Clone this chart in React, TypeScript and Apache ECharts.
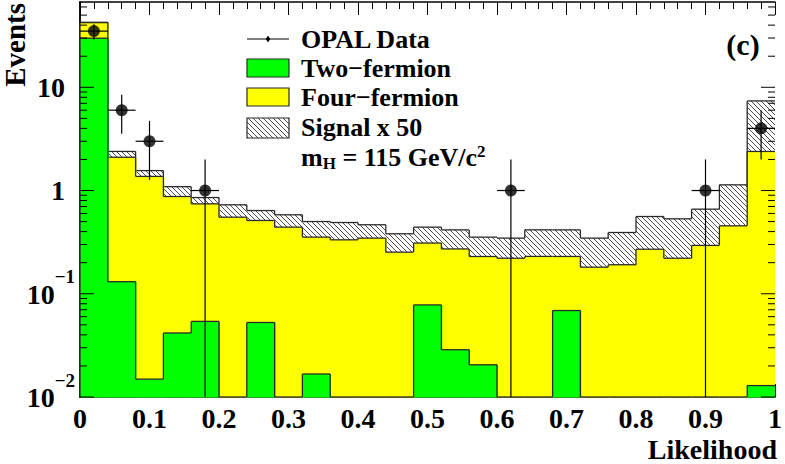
import React, { useEffect, useRef } from "react";
import * as echarts from "echarts";

// ---------------- data ----------------
const binLow = [
  0, 0.04, 0.08, 0.12, 0.16, 0.2, 0.24, 0.28, 0.32, 0.36, 0.4, 0.44, 0.48,
  0.52, 0.56, 0.6, 0.64, 0.68, 0.72, 0.76, 0.8, 0.84, 0.88, 0.92, 0.96,
];
const binWidth = 0.04;

const twoFermion = [
  29.9, 0.131, 0.0149, 0.0417, 0.054, 0, 0.0527, 0, 0.0167, 0, 0, 0, 0.078,
  0.0287, 0.0205, 0, 0, 0.0688, 0, 0, 0, 0, 0, 0, 0.0129,
];
const fourFermion = [
  12.4, 1.97, 1.355, 0.833, 0.689, 0.552, 0.46, 0.442, 0.337, 0.333, 0.346,
  0.253, 0.232, 0.243, 0.209, 0.221, 0.23, 0.161, 0.181, 0.191, 0.27, 0.221,
  0.294, 0.455, 2.377,
];
const signalX50 = [
  0.3, 0.29, 0.19, 0.215, 0.112, 0.175, 0.127, 0.14, 0.147, 0.157, 0.12,
  0.128, 0.132, 0.144, 0.124, 0.125, 0.186, 0.186, 0.165, 0.201, 0.29, 0.311,
  0.366, 0.68, 4.99,
];

const dataX = [0.02, 0.06, 0.1, 0.18, 0.62, 0.9, 0.98];
const dataCounts = [35, 6, 3, 1, 1, 1, 4];
const dataErrLow = [29.1, 3.55, 1.27, 0, 0, 0, 2];
const dataErrHigh = [40.9, 8.45, 4.73, 2, 2, 2, 6];

const xTickLabels = ["0", "0.1", "0.2", "0.3", "0.4", "0.5", "0.6", "0.7", "0.8", "0.9", "1"];
const yMajorTicks = [0.01, 0.1, 1, 10];
const yTickLabels = ["{b|10}{s|\u22122}", "{b|10}{s|\u22121}", "{n|1}", "{n|10}"];

const yMin = 0.01;
const yMax = 67;

const FONT = "'Liberation Serif', 'Times New Roman', serif";
const GREEN = "#00ff00";
const YELLOW = "#ffff00";
const OUTLINE = "#2a2a2a";
const HATCH = "#3a3a3a";

function hatchLines(l: number, t: number, r: number, b: number, s: number) {
  const out: any[] = [];
  const kMin = Math.ceil((t - r) / s);
  const kMax = Math.floor((b - l) / s);
  for (let k = kMin; k <= kMax; k++) {
    const c = k * s;
    const xs = Math.max(l, t - c);
    const xe = Math.min(r, b - c);
    if (xe - xs > 0.3) {
      out.push({
        type: "line",
        silent: true,
        shape: { x1: xs, y1: xs + c, x2: xe, y2: xe + c },
        style: { stroke: HATCH, lineWidth: 0.9 },
      });
    }
  }
  return out;
}

function buildLayer(base: number[], top: number[]) {
  return binLow.map((x0, i) => [
    x0,
    x0 + binWidth,
    Math.max(base[i], yMin),
    Math.max(top[i], yMin),
    i === 0 ? yMin : Math.max(top[i - 1], yMin),
  ]);
}

function histRender(kind: "fill" | "hatch", color: string) {
  return (params: any, api: any) => {
    const x0 = api.value(0);
    const x1 = api.value(1);
    const b = api.value(2);
    const t = api.value(3);
    const p = api.value(4);
    const bl = api.coord([x0, b]);
    const tr = api.coord([x1, t]);
    const pv = api.coord([x0, p]);
    const left = bl[0];
    const right = tr[0];
    const top = tr[1];
    const bottom = bl[1];
    const isLast = params.dataIndex === binLow.length - 1;
    const children: any[] = [];
    if (bottom - top > 0.2) {
      if (kind === "fill") {
        children.push({
          type: "rect",
          shape: {
            x: left,
            y: top,
            width: right - left + (isLast ? 0 : 0.8),
            height: bottom - top + 0.6,
          },
          style: { fill: color },
        });
      } else {
        children.push(...hatchLines(left, top, right, bottom, 5));
      }
    }
    children.push({
      type: "line",
      shape: { x1: left, y1: top, x2: right, y2: top },
      style: { stroke: OUTLINE, lineWidth: 1.3 },
    });
    children.push({
      type: "line",
      shape: { x1: left, y1: pv[1], x2: left, y2: top },
      style: { stroke: OUTLINE, lineWidth: 1.3 },
    });
    return { type: "group", children };
  };
}

export default function App() {
  const ref = useRef<HTMLDivElement>(null);

  useEffect(() => {
    if (!ref.current) return;
    const chart = echarts.init(ref.current, undefined, { renderer: "svg" });

    const greenTop = twoFermion.map((v) => v);
    const yellowTop = twoFermion.map((v, i) => v + fourFermion[i]);
    const hatchTop = yellowTop.map((v, i) => v + signalX50[i]);
    const zeros = twoFermion.map(() => yMin);

    const greenData = buildLayer(zeros, greenTop);
    const yellowData = buildLayer(greenTop, yellowTop);
    const hatchData = buildLayer(yellowTop, hatchTop);

    // y tick marks (log minor ticks 2..9 per decade)
    const yTickData: number[][] = [];
    for (let e = -2; e <= 1; e++) {
      for (let m = 1; m <= 9; m++) {
        const v = m * Math.pow(10, e);
        if (v <= yMax) yTickData.push([0, v, m === 1 ? 1 : 0]);
      }
    }

    const pointData = dataX.map((x, i) => [x, dataCounts[i]]);
    const errData = dataX.map((x, i) => [
      x,
      dataCounts[i],
      Math.max(dataErrLow[i], yMin),
      dataErrHigh[i],
    ]);

    const legendX = 247;
    const legendW = 42;
    const legendTextX = 301;
    const legTextStyle = {
      fontSize: 26,
      fontWeight: "bold",
      fontFamily: FONT,
      fill: "#000",
      align: "left",
      verticalAlign: "middle",
    };

    const option: any = {
      animation: false,
      backgroundColor: "#ffffff",
      textStyle: { fontFamily: FONT },
      grid: { left: 80, right: 7, top: 2, bottom: 67, show: false },
      xAxis: [
        {
          type: "value",
          min: 0,
          max: 1,
          interval: 0.1,
          position: "bottom",
          axisLine: { show: true, lineStyle: { color: "#000", width: 1.5 } },
          axisTick: { show: true, inside: true, length: 13, lineStyle: { color: "#000", width: 1 } },
          minorTick: { show: true, splitNumber: 5, length: 7, lineStyle: { color: "#000", width: 1 } },
          splitLine: { show: false },
          minorSplitLine: { show: false },
          axisLabel: {
            margin: 7,
            fontSize: 28,
            lineHeight: 28,
            fontWeight: "bold",
            fontFamily: FONT,
            color: "#000",
            formatter: (v: number) => {
              const i = Math.round(v * 10);
              return Math.abs(v * 10 - i) < 1e-6 ? xTickLabels[i] : "";
            },
          },
        },
        {
          type: "value",
          min: 0,
          max: 1,
          interval: 0.1,
          position: "top",
          axisLine: { show: true, lineStyle: { color: "#000", width: 1.5 } },
          axisTick: { show: true, inside: true, length: 13, lineStyle: { color: "#000", width: 1 } },
          minorTick: { show: true, splitNumber: 5, length: 7, lineStyle: { color: "#000", width: 1 } },
          splitLine: { show: false },
          axisLabel: { show: false },
        },
      ],
      yAxis: [
        {
          type: "log",
          logBase: 10,
          min: yMin,
          max: yMax,
          position: "left",
          axisLine: { show: true, lineStyle: { color: "#000", width: 1.5 } },
          axisTick: { show: false },
          splitLine: { show: false },
          axisLabel: {
            margin: 5,
            color: "#000",
            formatter: (v: number) => {
              for (let i = 0; i < yMajorTicks.length; i++) {
                if (Math.abs(Math.log10(v) - Math.log10(yMajorTicks[i])) < 1e-6) return yTickLabels[i];
              }
              return "";
            },
            rich: {
              n: { fontSize: 28, fontWeight: "bold", fontFamily: FONT, color: "#000", padding: [0, 10, 0, 0] },
              b: { fontSize: 28, fontWeight: "bold", fontFamily: FONT, color: "#000", verticalAlign: "bottom", padding: [0, 0, 12, 0] },
              s: { fontSize: 19, fontWeight: "bold", fontFamily: FONT, color: "#000", verticalAlign: "bottom", padding: [0, 0, 34, 0] },
            },
          },
        },
        {
          type: "log",
          logBase: 10,
          min: yMin,
          max: yMax,
          position: "right",
          axisLine: { show: true, lineStyle: { color: "#000", width: 1.5 } },
          axisTick: { show: false },
          splitLine: { show: false },
          axisLabel: { show: false },
        },
      ],
      series: [
        {
          name: "Signal x 50",
          type: "custom",
          renderItem: histRender("hatch", "#fff"),
          data: hatchData,
          encode: { x: [0, 1], y: [2, 3] },
          z: 2,
        },
        {
          name: "Four-fermion",
          type: "custom",
          renderItem: histRender("fill", YELLOW),
          data: yellowData,
          encode: { x: [0, 1], y: [2, 3] },
          z: 3,
        },
        {
          name: "Two-fermion",
          type: "custom",
          renderItem: histRender("fill", GREEN),
          data: greenData,
          encode: { x: [0, 1], y: [2, 3] },
          z: 4,
        },
        {
          name: "ticks",
          type: "custom",
          silent: true,
          z: 6,
          data: yTickData,
          encode: { x: 0, y: 1 },
          renderItem: (params: any, api: any) => {
            const v = api.value(1);
            const major = api.value(2) === 1;
            const len = major ? 14 : 7;
            const pl = api.coord([0, v]);
            const pr = api.coord([1, v]);
            return {
              type: "group",
              children: [
                { type: "line", shape: { x1: pl[0], y1: pl[1], x2: pl[0] + len, y2: pl[1] }, style: { stroke: "#000", lineWidth: 1 } },
                { type: "line", shape: { x1: pr[0] - len, y1: pr[1], x2: pr[0], y2: pr[1] }, style: { stroke: "#000", lineWidth: 1 } },
              ],
            };
          },
        },
        {
          name: "OPAL Data errors",
          type: "custom",
          z: 7,
          data: errData,
          encode: { x: 0, y: 1 },
          renderItem: (params: any, api: any) => {
            const x = api.value(0);
            const c = api.value(1);
            const lo = api.value(2);
            const hi = api.value(3);
            const pL = api.coord([x - binWidth / 2, c]);
            const pR = api.coord([x + binWidth / 2, c]);
            const pLo = api.coord([x, lo]);
            const pHi = api.coord([x, hi]);
            return {
              type: "group",
              children: [
                { type: "line", shape: { x1: pL[0], y1: pL[1], x2: pR[0], y2: pR[1] }, style: { stroke: "#000", lineWidth: 1.2 } },
                { type: "line", shape: { x1: pLo[0], y1: pLo[1], x2: pHi[0], y2: pHi[1] }, style: { stroke: "#000", lineWidth: 1.2 } },
              ],
            };
          },
        },
        {
          name: "OPAL Data",
          type: "scatter",
          z: 8,
          symbol: "circle",
          symbolSize: 12,
          itemStyle: { color: "#000" },
          data: pointData,
        },
      ],
      graphic: [
        // legend: OPAL Data
        { type: "line", shape: { x1: legendX, y1: 39, x2: legendX + legendW, y2: 39 }, style: { stroke: "#000", lineWidth: 1.2 } },
        { type: "line", shape: { x1: legendX + legendW / 2, y1: 36, x2: legendX + legendW / 2, y2: 42 }, style: { stroke: "#000", lineWidth: 1.2 } },
        { type: "circle", shape: { cx: legendX + legendW / 2, cy: 39, r: 2 }, style: { fill: "#000" } },
        { type: "text", x: legendTextX, y: 39, style: { ...legTextStyle, text: "OPAL Data" } },
        // Two-fermion
        { type: "rect", shape: { x: legendX, y: 59, width: legendW, height: 18 }, style: { fill: GREEN, stroke: OUTLINE, lineWidth: 1.2 } },
        { type: "text", x: legendTextX, y: 68, style: { ...legTextStyle, text: "Two\u2212fermion" } },
        // Four-fermion
        { type: "rect", shape: { x: legendX, y: 88, width: legendW, height: 18 }, style: { fill: YELLOW, stroke: OUTLINE, lineWidth: 1.2 } },
        { type: "text", x: legendTextX, y: 97, style: { ...legTextStyle, text: "Four\u2212fermion" } },
        // Signal
        { type: "rect", shape: { x: legendX, y: 118, width: legendW, height: 20 }, style: { fill: "#fff", stroke: "none" } },
        ...hatchLines(legendX, 118, legendX + legendW, 138, 5),
        { type: "rect", shape: { x: legendX, y: 118, width: legendW, height: 20 }, style: { fill: "none", stroke: OUTLINE, lineWidth: 1.2 } },
        { type: "text", x: legendTextX, y: 127, style: { ...legTextStyle, text: "Signal x 50" } },
        {
          type: "text",
          x: legendTextX,
          y: 157,
          style: {
            ...legTextStyle,
            text: "{m|m}{sub|H}{m| = 115 GeV/c}{sup|2}",
            rich: {
              m: { fontSize: 26, fontWeight: "bold", fontFamily: FONT, fill: "#000" },
              sub: { fontSize: 17, fontWeight: "bold", fontFamily: FONT, fill: "#000", padding: [12, 0, 0, 0] },
              sup: { fontSize: 17, fontWeight: "bold", fontFamily: FONT, fill: "#000", padding: [0, 0, 12, 0] },
            },
          },
        },
        // (c)
        { type: "text", x: 743, y: 44, style: { text: "(c)", fontSize: 30, fontWeight: "bold", fontFamily: FONT, fill: "#000", align: "center", verticalAlign: "middle" } },
        // axis titles
        { type: "text", x: 777, y: 463, style: { text: "Likelihood", fontSize: 28, lineHeight: 28, fontWeight: "bold", fontFamily: FONT, fill: "#000", align: "right", verticalAlign: "bottom" } },
        { type: "text", x: 15, y: 3, rotation: Math.PI / 2, style: { text: "Events", fontSize: 29, fontWeight: "bold", fontFamily: FONT, fill: "#000", align: "right", verticalAlign: "middle" } },
      ],
    };

    chart.setOption(option);
    return () => chart.dispose();
  }, []);

  return (
    <div
      ref={ref}
      style={{ position: "fixed", left: 0, top: 0, width: 785, height: 464, background: "#fff" }}
    />
  );
}
